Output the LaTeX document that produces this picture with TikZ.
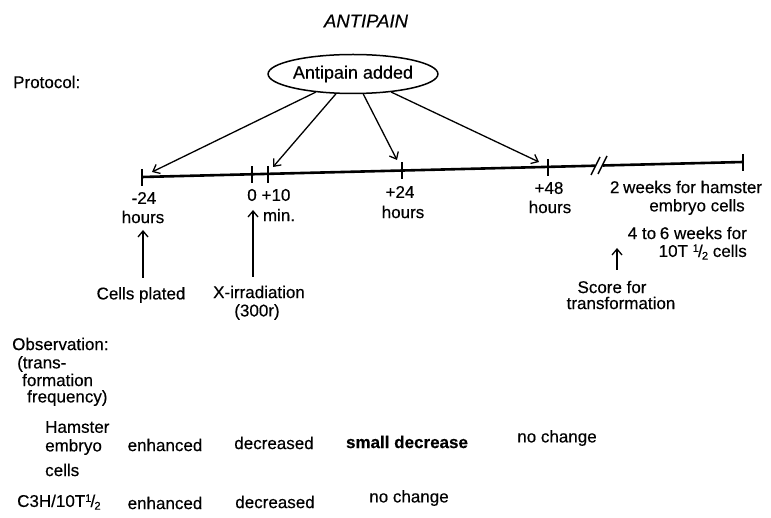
\documentclass[tikz,border=0pt]{standalone}
\usepackage{fontspec}
\setmainfont{Liberation Sans}[FakeBold=0.4]
\usetikzlibrary{arrows.meta,shapes.geometric}
\newcommand\halfsym{\raisebox{0.55ex}{\fontsize{11}{11}\selectfont 1}\kern-0.8pt/\kern-0.8pt\raisebox{-0.3ex}{\fontsize{11}{11}\selectfont 2}}
\begin{document}
\begin{tikzpicture}[x=1pt,y=-1pt,
  txt/.style={inner sep=0pt, font=\fontsize{17}{20}\selectfont},
  arr/.style={line width=1.3pt, -{Straight Barb[length=6pt,width=10pt,line width=1.3pt]}},
  tickline/.style={line width=1.4pt},
  axis/.style={line width=2.6pt},
  ell/.style={draw, ellipse, line width=1.5pt, minimum width=153pt, minimum height=39pt, inner sep=0pt, font=\fontsize{18}{20}\selectfont}]
\useasboundingbox (0,0) rectangle (771,518);

% title and ellipse
\node[txt, font=\fontsize{18.5}{20}\selectfont\itshape] (title) at (366,21) {ANTIPAIN};
\node[txt, anchor=west] (protocol) at (13,82) {Protocol:};
\node[ell] (ell) at (353,74) {Antipain added};

% axis coordinates
\coordinate (tA) at (142,177);
\coordinate (tB) at (252,174.3);
\coordinate (tC) at (268,173.9);
\coordinate (tD) at (402,170.5);
\coordinate (tE) at (548,166.9);
\coordinate (brkA) at (595.5,165.7);
\coordinate (brkB) at (602.5,165.5);
\coordinate (tF) at (743,162);

\draw[axis] (tA) -- (brkA);
\draw[axis] (brkB) -- (tF);
\foreach \t in {tA,tB,tC,tD,tE,tF}
  \draw[tickline] ([yshift=8pt]\t) -- ([yshift=-9pt]\t);
\coordinate (s1a) at (591,175); \coordinate (s1b) at (600,157);
\coordinate (s2a) at (598,174); \coordinate (s2b) at (607,156);
\draw[tickline] (s1a) -- (s1b);
\draw[tickline] (s2a) -- (s2b);

% arrows from ellipse
\coordinate (a1) at (152,172);
\coordinate (a2) at (273,167);
\coordinate (a3) at (397,160);
\coordinate (a4) at (539,162);
\foreach \a in {a1,a2,a3,a4}
  \draw[arr] (ell) -- (\a);

% axis labels
\node[txt] (m24) at (144,198) {-24};
\node[txt] (h1) at (143,217) {hours};
\node[txt] (zero) at (252,195) {0};
\node[txt] (p10) at (276,195) {+10};
\node[txt] (min) at (279,215) {min.};
\node[txt] (p24) at (400,192) {+24};
\node[txt] (h2) at (403,212) {hours};
\node[txt] (p48) at (549,188) {+48};
\node[txt] (h3) at (550,207) {hours};
\node[txt] (wk1) at (686,187) {2\kern-1pt\ weeks for hamster};
\node[txt] (wk2) at (697,207) {embryo cells};
\node[txt, anchor=east] (wk3) at (747,233) {4 to\kern-1pt\ 6 weeks for};
\node[txt, anchor=east] (wk4) at (747,252) {10T \halfsym\ cells};

% events
\node[txt] (cp) at (141,295) {Cells plated};
\node[txt] (xi) at (259,292) {X-irradiation};
\node[txt] (dose) at (257,312) {(300r)};
\node[txt] (sc1) at (612,287) {Score for};
\node[txt] (sc2) at (621,303) {transformation};
\coordinate (u1s) at (143,278); \coordinate (u1e) at (143,230);
\coordinate (u2s) at (253,277); \coordinate (u2e) at (253,210);
\coordinate (u3s) at (617,270); \coordinate (u3e) at (617,248);
\draw[arr] (u1s) -- (u1e);
\draw[arr] (u2s) -- (u2e);
\draw[arr] (u3s) -- (u3e);

% observation
\node[txt, anchor=west] (obs1) at (12,344) {Observation:};
\node[txt, anchor=west] (obs2) at (17,364) {(trans-};
\node[txt, anchor=west] (obs3) at (22,380) {formation};
\node[txt, anchor=west] (obs4) at (27,398) {frequency)};
\node[txt, anchor=west] (ham1) at (45,427) {Hamster};
\node[txt, anchor=west] (ham2) at (45,447) {embryo};
\node[txt, anchor=west] (ham3) at (45,470) {cells};
\node[txt] (r1c1) at (165,445) {enhanced};
\node[txt] (r1c2) at (274,443) {decreased};
\node[txt, font=\fontsize{17}{20}\selectfont\bfseries] (r1c3) at (407,442) {small decrease};
\node[txt] (r1c4) at (557,438) {no change};
\node[txt, anchor=west] (c3h) at (17,502) {C3H/10T\halfsym};
\node[txt] (r2c1) at (165,503) {enhanced};
\node[txt] (r2c2) at (275,502) {decreased};
\node[txt] (r2c3) at (409,498) {no change};
\end{tikzpicture}
\end{document}
